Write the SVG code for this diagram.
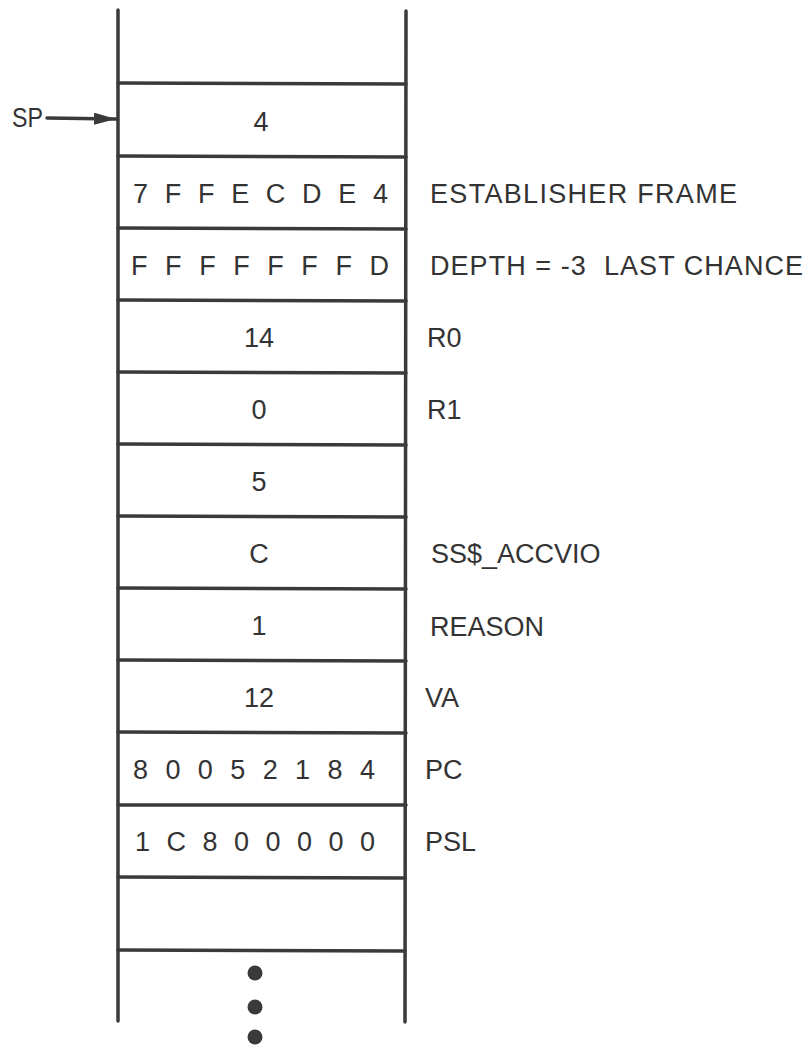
<svg xmlns="http://www.w3.org/2000/svg" width="810" height="1046" viewBox="0 0 810 1046">
<defs>
<style>
.ln{stroke:#3a3a3a;stroke-width:3.5;fill:none;stroke-linecap:round}
.t{font-family:"Liberation Sans",Arial,sans-serif;font-size:27px;fill:#333}
.c{text-anchor:middle}
</style>
<marker id="ah" viewBox="0 0 22 12" refX="22" refY="6" markerWidth="22" markerHeight="12" markerUnits="userSpaceOnUse" orient="auto"><path d="M0,0 L22,6 L0,12 Z" fill="#3a3a3a"/></marker>
</defs>
<rect width="810" height="1046" fill="#fff"/>
<g id="stack">
<line class="ln" x1="118" y1="10" x2="118" y2="1021"/>
<line class="ln" x1="406" y1="11" x2="405" y2="1022"/>
<line class="ln" x1="118" y1="83" x2="406" y2="84"/>
<line class="ln" x1="118" y1="156" x2="406" y2="157"/>
<line class="ln" x1="118" y1="228" x2="406" y2="229"/>
<line class="ln" x1="118" y1="300" x2="406" y2="301"/>
<line class="ln" x1="118" y1="372" x2="406" y2="373"/>
<line class="ln" x1="118" y1="444" x2="406" y2="445"/>
<line class="ln" x1="118" y1="516" x2="406" y2="517"/>
<line class="ln" x1="118" y1="588" x2="406" y2="589"/>
<line class="ln" x1="118" y1="660" x2="406" y2="661"/>
<line class="ln" x1="118" y1="732" x2="406" y2="733"/>
<line class="ln" x1="118" y1="805" x2="406" y2="805"/>
<line class="ln" x1="118" y1="877" x2="405" y2="878"/>
<line class="ln" x1="118" y1="950" x2="405" y2="951"/>
</g>
<g id="cells">
<text class="t c" x="261" y="131">4</text>
<text class="t" x="133" y="203" textLength="255" lengthAdjust="spacing">7 F F E C D E 4</text>
<text class="t" x="131" y="275" textLength="258" lengthAdjust="spacing">F F F F F F F D</text>
<text class="t c" x="259" y="347">14</text>
<text class="t c" x="259" y="419">0</text>
<text class="t c" x="259" y="491">5</text>
<text class="t c" x="259" y="563">C</text>
<text class="t c" x="259" y="635">1</text>
<text class="t c" x="259" y="707">12</text>
<text class="t" x="133" y="779" textLength="242" lengthAdjust="spacing">8 0 0 5 2 1 8 4</text>
<text class="t" x="135" y="851" textLength="240" lengthAdjust="spacing">1 C 8 0 0 0 0 0</text>
</g>
<g id="labels">
<text class="t" x="430" y="203" textLength="307" lengthAdjust="spacing">ESTABLISHER FRAME</text>
<text class="t" x="430" y="275" textLength="373" lengthAdjust="spacing" xml:space="preserve">DEPTH = -3  LAST CHANCE</text>
<text class="t" x="427" y="347">R0</text>
<text class="t" x="427" y="419">R1</text>
<text class="t" x="431" y="563">SS$_ACCVIO</text>
<text class="t" x="430" y="636">REASON</text>
<text class="t" x="425" y="707">VA</text>
<text class="t" x="425" y="779">PC</text>
<text class="t" x="425" y="851">PSL</text>
<text class="t" x="12" y="127" textLength="31" lengthAdjust="spacingAndGlyphs">SP</text>
</g>
<g id="connectors">
<line class="ln" x1="47" y1="118" x2="116" y2="119" stroke-width="3" marker-end="url(#ah)"/>
</g>
<g id="dots" fill="#3a3a3a">
<circle cx="255" cy="973" r="7.5"/>
<circle cx="255" cy="1007" r="7.5"/>
<circle cx="255" cy="1037" r="7.5"/>
</g>
</svg>
